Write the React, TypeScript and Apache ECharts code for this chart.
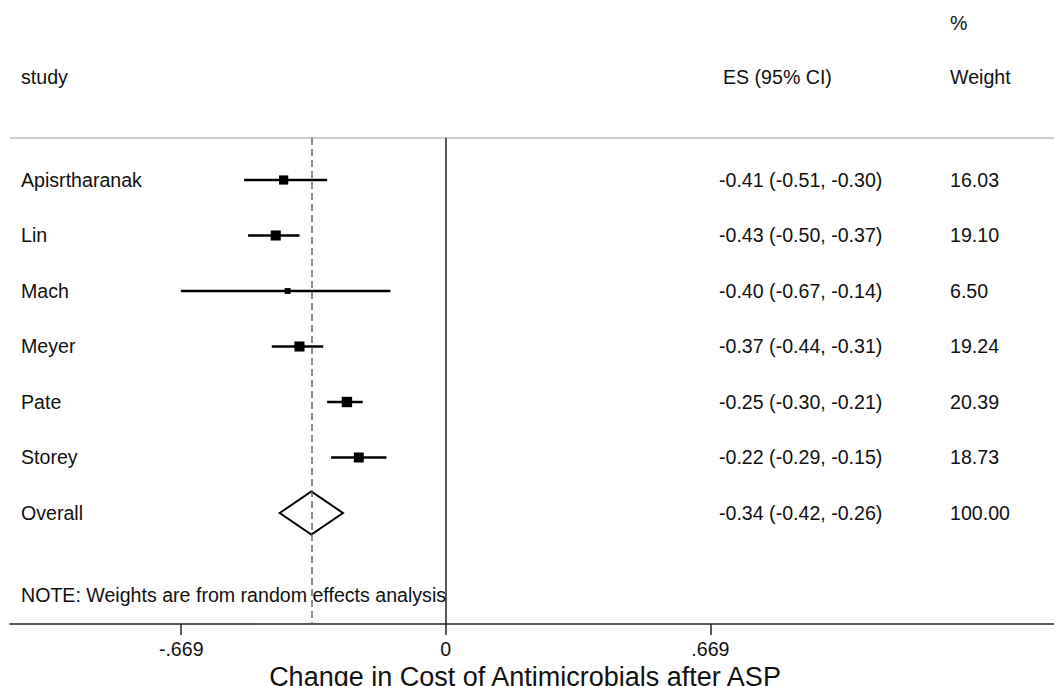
import React, { useEffect, useRef } from "react";
import * as echarts from "echarts";

const FONT = '"Liberation Sans", Arial, Helvetica, sans-serif';

// ---- data ----
const studies = ["Apisrtharanak", "Lin", "Mach", "Meyer", "Pate", "Storey"];
const effect = [-0.41, -0.43, -0.4, -0.37, -0.25, -0.22];
const lower = [-0.51, -0.5, -0.67, -0.44, -0.3, -0.29];
const upper = [-0.3, -0.37, -0.14, -0.31, -0.21, -0.15];
const weights = [16.03, 19.1, 6.5, 19.24, 20.39, 18.73];

const overallLabel = "Overall";
const overallEffect = -0.34;
const overallLower = -0.42;
const overallUpper = -0.26;
const overallWeight = 100.0;

const tickValues = [-0.669, 0, 0.669];
const xTitle = "Change in Cost of Antimicrobials after ASP";
const note = "NOTE: Weights are from random effects analysis";

// axis extents
const X_MIN = -1.102;
const X_MAX = 1.538;
const Y_MIN = -3.243; // top of plot, in row units
const Y_MAX = 8; // axis line, in row units
const HEADER_LINE_ROW = -0.757;

const fmt = (v: number) => v.toFixed(2);
const tickFmt = (v: number) => {
  if (Math.abs(v) < 1e-9) return "0";
  const s = Math.abs(v).toFixed(3).replace(/^0/, "");
  return (v < 0 ? "-" : "") + s;
};

const TXT = 19.6;

export default function App() {
  const ref = useRef<HTMLDivElement>(null);

  useEffect(() => {
    if (!ref.current) return;
    const chart = echarts.init(ref.current, undefined, { renderer: "svg" });

    const rows: any[] = studies.map((s, i) => ({
      name: s,
      value: [i, effect[i], lower[i], upper[i], weights[i], 0],
    }));
    rows.push({
      name: overallLabel,
      value: [
        studies.length,
        overallEffect,
        overallLower,
        overallUpper,
        overallWeight,
        1,
      ],
    });

    const textEl = (text: string, x: number, y: number, size = TXT) => ({
      type: "text",
      silent: true,
      style: {
        text,
        x,
        y,
        fill: "#111",
        fontSize: size,
        fontFamily: FONT,
        align: "left",
        verticalAlign: "middle",
      },
    });

    const option: any = {
      animation: false,
      backgroundColor: "#fff",
      grid: {
        left: 10,
        right: 0,
        top: 0,
        bottom: 62,
        containLabel: false,
        outerBoundsMode: "none",
      },
      xAxis: {
        type: "value",
        min: X_MIN,
        max: X_MAX,
        position: "bottom",
        splitLine: { show: false },
        axisLine: {
          show: true,
          onZero: false,
          lineStyle: { color: "#222", width: 1.5 },
        },
        axisTick: {
          show: true,
          customValues: tickValues,
          length: 11,
          lineStyle: { color: "#222", width: 1.5 },
        },
        axisLabel: {
          show: true,
          customValues: tickValues,
          formatter: (v: number) => tickFmt(v),
          color: "#111",
          fontSize: TXT,
          fontFamily: FONT,
          margin: 15,
        },
        name: xTitle,
        nameLocation: "middle",
        nameGap: 36,
        nameTextStyle: {
          color: "#111",
          fontSize: 27,
          fontFamily: FONT,
          padding: [0, 14, 0, 0],
        },
      },
      yAxis: {
        type: "value",
        inverse: true,
        min: Y_MIN,
        max: Y_MAX,
        show: false,
      },
      graphic: [
        textEl("%", 950, 23),
        textEl("study", 21, 77),
        textEl("ES (95% CI)", 723, 77),
        textEl("Weight", 950, 77),
        textEl(note, 21, 595),
      ],
      series: [
        {
          type: "custom",
          clip: false,
          data: rows,
          encode: { x: [1, 2, 3], y: 0 },
          renderItem: (params: any, api: any) => {
            const row = api.value(0);
            const es = api.value(1);
            const lo = api.value(2);
            const hi = api.value(3);
            const w = api.value(4);
            const isOverall = api.value(5) === 1;
            const pEs = api.coord([es, row]);
            const pLo = api.coord([lo, row]);
            const pHi = api.coord([hi, row]);
            const name = rows[params.dataIndex].name;
            const children: any[] = [];
            if (isOverall) {
              const h = 21.5;
              children.push({
                type: "polygon",
                shape: {
                  points: [
                    [pLo[0], pLo[1]],
                    [pEs[0], pEs[1] - h],
                    [pHi[0], pHi[1]],
                    [pEs[0], pEs[1] + h],
                  ],
                },
                style: { fill: "none", stroke: "#000", lineWidth: 2 },
              });
            } else {
              children.push({
                type: "line",
                shape: { x1: pLo[0], y1: pLo[1], x2: pHi[0], y2: pHi[1] },
                style: { stroke: "#000", lineWidth: 2.3 },
              });
              const side = 2.3 * Math.sqrt(w);
              children.push({
                type: "rect",
                shape: {
                  x: pEs[0] - side / 2,
                  y: pEs[1] - side / 2,
                  width: side,
                  height: side,
                },
                style: { fill: "#000" },
              });
            }
            children.push(textEl(name, 21, pEs[1]));
            children.push(
              textEl(`${fmt(es)} (${fmt(lo)}, ${fmt(hi)})`, 719, pEs[1])
            );
            children.push(textEl(fmt(w), 950, pEs[1]));
            return { type: "group", children };
          },
          markLine: {
            silent: true,
            symbol: ["none", "none"],
            label: { show: false },
            data: [
              [
                {
                  coord: [X_MIN, HEADER_LINE_ROW],
                  lineStyle: { color: "#bdbdbd", width: 1.5, type: "solid" },
                },
                { coord: [X_MAX, HEADER_LINE_ROW] },
              ],
              [
                {
                  coord: [0, HEADER_LINE_ROW],
                  lineStyle: { color: "#222", width: 1.5, type: "solid" },
                },
                { coord: [0, Y_MAX] },
              ],
              [
                {
                  coord: [overallEffect, HEADER_LINE_ROW],
                  lineStyle: { color: "#666", width: 1.5, type: [7, 4] },
                },
                { coord: [overallEffect, Y_MAX] },
              ],
            ],
          },
        },
      ],
    };

    chart.setOption(option);
    return () => chart.dispose();
  }, []);

  return (
    <div
      ref={ref}
      style={{
        position: "fixed",
        left: 0,
        top: 0,
        width: 1054,
        height: 686,
        background: "#fff",
      }}
    />
  );
}
